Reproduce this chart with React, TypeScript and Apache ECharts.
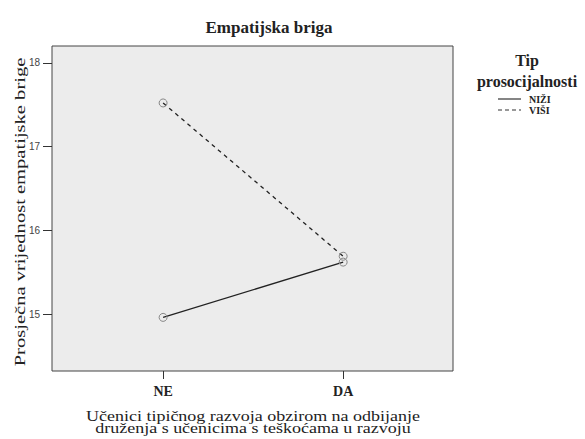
import React, { useEffect, useRef } from "react";
import * as echarts from "echarts";

const categories = ["NE", "DA"];
const yTicks = [15, 16, 17, 18];
const seriesNames = ["NIŽI", "VIŠI"];
const niziValues = [14.96, 15.62];
const visiValues = [17.52, 15.69];

const serif = "'Liberation Serif', 'DejaVu Serif', serif";
const sans = "'Liberation Sans', Arial, sans-serif";

export default function App() {
  const ref = useRef<HTMLDivElement>(null);
  useEffect(() => {
    if (!ref.current) return;
    const chart = echarts.init(ref.current, null, { renderer: "svg" });
    const catIdx = categories.map((_, i) => i);
    const mk = (vals: number[]) => vals.map((v, i) => [i, v]);
    const markerStyle = { color: "rgba(0,0,0,0)", borderColor: "#888", borderWidth: 1 };
    chart.setOption({
      animation: false,
      backgroundColor: "#ffffff",
      title: {
        text: "Empatijska briga",
        left: 264,
        top: 14,
        textAlign: "center",
        textStyle: { fontFamily: serif, fontSize: 17, fontWeight: "bold", color: "#222" },
      },
      grid: {
        left: 52,
        top: 46,
        width: 401,
        height: 325,
        show: true,
        backgroundColor: "#ececec",
        borderColor: "#444",
        borderWidth: 1,
      },
      xAxis: {
        type: "value",
        min: -0.617,
        max: 1.61,
        splitLine: { show: false },
        axisLine: { show: false, onZero: false },
        axisTick: { show: true, length: 8, customValues: catIdx, lineStyle: { color: "#333" } },
        axisLabel: {
          customValues: catIdx,
          formatter: (v: number) => categories[Math.round(v)] ?? "",
          fontFamily: serif,
          fontWeight: "bold",
          fontSize: 14,
          color: "#222",
          margin: 13,
        },
      },
      yAxis: {
        type: "value",
        min: 14.32,
        max: 18.2,
        splitLine: { show: false },
        axisLine: { show: false, onZero: false },
        axisTick: { show: true, length: 9, customValues: yTicks, lineStyle: { color: "#333" } },
        axisLabel: {
          customValues: yTicks,
          fontFamily: sans,
          fontSize: 10,
          color: "#444",
          margin: 12,
        },
      },
      series: [
        {
          name: seriesNames[0],
          type: "line",
          data: mk(niziValues),
          symbol: "circle",
          symbolSize: 8,
          itemStyle: markerStyle,
          lineStyle: { color: "#222", width: 1.3, type: "solid" },
        },
        {
          name: seriesNames[1],
          type: "line",
          data: mk(visiValues),
          symbol: "circle",
          symbolSize: 8,
          itemStyle: markerStyle,
          lineStyle: { color: "#222", width: 1.3, type: [4, 4] },
        },
      ],
      graphic: [
        {
          type: "text",
          x: 20,
          y: 212,
          rotation: Math.PI / 2,
          scaleX: 1.37,
          style: {
            text: "Prosječna vrijednost empatijske brige",
            align: "center",
            verticalAlign: "middle",
            fontFamily: serif,
            fontSize: 15,
            fill: "#222",
          },
        },
        {
          type: "text",
          x: 253,
          y: 416,
          scaleX: 1.2,
          style: {
            text: "Učenici tipičnog razvoja obzirom na odbijanje",
            align: "center",
            verticalAlign: "middle",
            fontFamily: serif,
            fontSize: 15,
            fill: "#222",
          },
        },
        {
          type: "text",
          x: 253,
          y: 428.5,
          scaleX: 1.2,
          style: {
            text: "druženja s učenicima s teškoćama u razvoju",
            align: "center",
            verticalAlign: "middle",
            fontFamily: serif,
            fontSize: 15,
            fill: "#222",
          },
        },
        {
          type: "text",
          x: 527,
          y: 60,
          style: {
            text: "Tip",
            align: "center",
            verticalAlign: "middle",
            fontFamily: serif,
            fontSize: 16,
            fontWeight: "bold",
            fill: "#222",
          },
        },
        {
          type: "text",
          x: 527,
          y: 81,
          style: {
            text: "prosocijalnosti",
            align: "center",
            verticalAlign: "middle",
            fontFamily: serif,
            fontSize: 16,
            fontWeight: "bold",
            fill: "#222",
          },
        },
        {
          type: "line",
          shape: { x1: 498, y1: 99, x2: 521, y2: 99 },
          style: { stroke: "#333", lineWidth: 1.2 },
        },
        {
          type: "line",
          shape: { x1: 498, y1: 110, x2: 521, y2: 110 },
          style: { stroke: "#333", lineWidth: 1.2, lineDash: [4, 3] },
        },
        {
          type: "text",
          x: 529,
          y: 99,
          style: {
            text: seriesNames[0],
            verticalAlign: "middle",
            fontFamily: serif,
            fontSize: 10,
            fontWeight: "bold",
            fill: "#222",
          },
        },
        {
          type: "text",
          x: 529,
          y: 110,
          style: {
            text: seriesNames[1],
            verticalAlign: "middle",
            fontFamily: serif,
            fontSize: 10,
            fontWeight: "bold",
            fill: "#222",
          },
        },
      ],
    });
    return () => chart.dispose();
  }, []);
  return <div ref={ref} style={{ width: 585, height: 439, position: "absolute", left: 0, top: 0 }} />;
}
